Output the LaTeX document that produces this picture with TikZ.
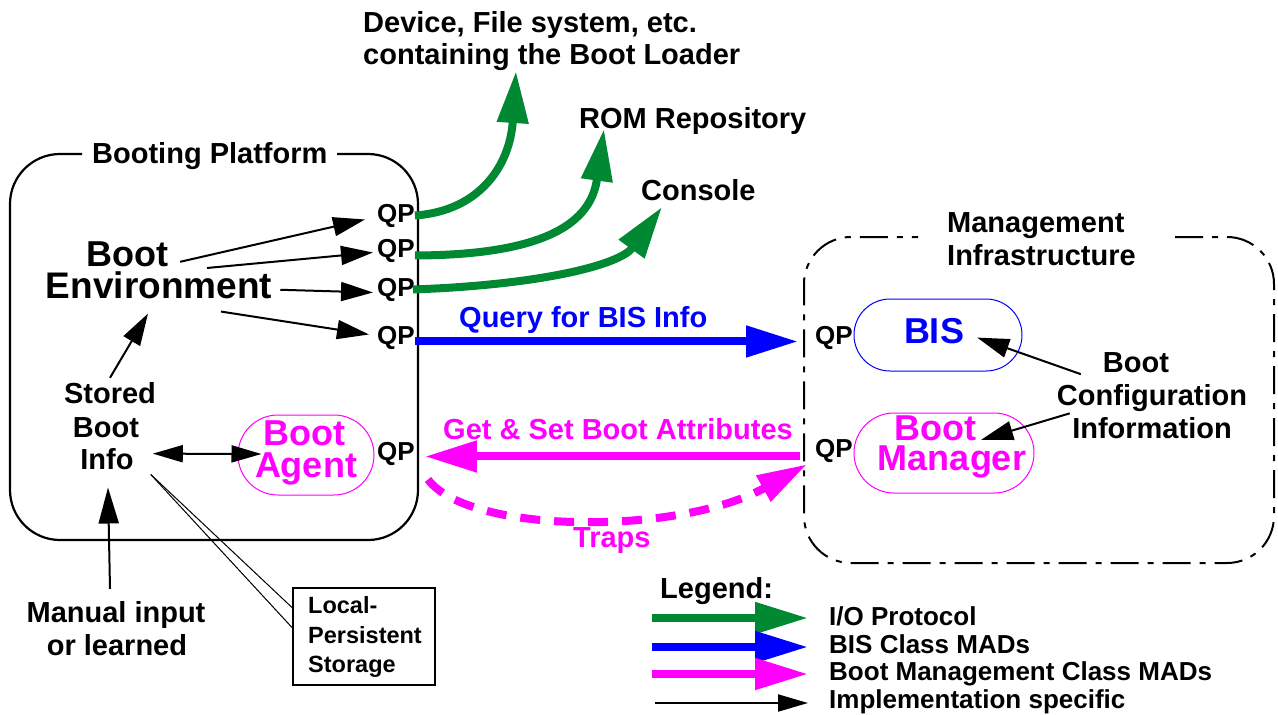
\documentclass[tikz,border=0pt]{standalone}
\usepackage{fontspec}
\setmainfont{Liberation Sans}
\usetikzlibrary{arrows.meta,calc}
\definecolor{iogreen}{RGB}{0,136,51}
\definecolor{mag}{RGB}{255,0,255}
\definecolor{bisblue}{RGB}{0,0,255}
\begin{document}
\begin{tikzpicture}[x=1pt,y=-1pt,
  lbl/.style={inner sep=0pt, anchor=base west, font=\fontsize{29}{32}\selectfont\bfseries},
  lblc/.style={inner sep=0pt, anchor=base, font=\fontsize{29}{32}\selectfont\bfseries},
  big/.style={inner sep=0pt, anchor=base, font=\fontsize{36}{32}\selectfont\bfseries},
  qp/.style={inner sep=0pt, anchor=base west, font=\fontsize{26}{28}\selectfont\bfseries},
  small/.style={inner sep=0pt, anchor=base west, font=\fontsize{23.5}{26}\selectfont\bfseries},
  leg/.style={inner sep=0pt, anchor=base west, font=\fontsize{26}{28}\selectfont\bfseries},
  impl/.style={line width=2pt, -{Triangle[length=32pt,width=19pt]}},
  thickarr/.style={line width=8pt, -{Triangle[length=52pt,width=30pt]}},
  pillbox/.style={line width=1pt, inner sep=0pt}
]
\useasboundingbox (0,0) rectangle (1278,715);

% boxes
\draw[line width=2.2pt, rounded corners=50pt] (337,154) -- (418,154) -- (418,540) -- (10,540) -- (10,154) -- (82,154);
\draw[line width=2pt, dash pattern=on 28pt off 9pt on 6pt off 9pt, rounded corners=47pt]
  (1175,237) -- (1274,237) -- (1274,563) -- (804,563) -- (804,237) -- (918,237);

\node[draw=bisblue, pillbox, rounded corners=36pt, minimum width=168pt, minimum height=72pt] (bisbox) at (938,335) {};
\node[draw=mag, pillbox, rounded corners=40pt, minimum width=180pt, minimum height=80pt] (mgrbox) at (944,453) {};
\node[draw=mag, pillbox, rounded corners=40pt, minimum width=136pt, minimum height=80pt] (agentbox) at (306,455) {};
\node[draw, line width=2pt, minimum width=142pt, minimum height=97pt, inner sep=0pt] (lpsbox) at (364,636.5) {};

% texts
\node[lbl] (dev1) at (363,32) {Device, File system, etc.};
\node[lbl] (dev2) at (363,64) {containing the Boot Loader};
\node[lbl] (rom) at (579,128) {ROM Repository};
\node[lbl] (console) at (641,200) {Console};
\node[lbl] (bptitle) at (92,163) {Booting Platform};
\node[lbl] (mi1) at (947,232) {Management};
\node[lbl] (mi2) at (947,265) {Infrastructure};

\node[big] (envA) at (127,266) {Boot};
\node[big, font=\fontsize{37}{32}\selectfont\bfseries] (envB) at (159,298) {Environment};

\node[qp] (qp1) at (377,222) {QP};
\node[qp] (qp2) at (377,257) {QP};
\node[qp] (qp3) at (377,296) {QP};
\node[qp] (qp4) at (377,344) {QP};
\node[qp] (qp5) at (377,460) {QP};
\node[qp] (bisqp) at (815,344) {QP};
\node[qp] (mgrqp) at (815,457) {QP};

\node[lblc] (stored) at (110,403) {Stored};
\node[lblc] (sboot) at (106,437) {Boot};
\node[lblc] (info) at (107,469) {Info};

\node[big, text=mag] (agent1) at (304,445) {Boot};
\node[big, text=mag] (agent2) at (306,477) {Agent};
\node[big, text=bisblue] (bis) at (934,343) {BIS};
\node[big, text=mag] (mgr1) at (935,440) {Boot};
\node[big, text=mag] (mgr2) at (952,470) {Manager};

\node[lblc] (cfg1) at (1136,372) {Boot};
\node[lblc] (cfg2) at (1152,405) {Configuration};
\node[lblc] (cfg3) at (1152,438) {Information};

\node[lbl, text=bisblue] (query) at (459,327) {Query for BIS Info};
\node[lbl, text=mag] (getset) at (443,439) {Get \& Set Boot Attributes};
\node[lbl, text=mag] (traps) at (573,547) {Traps};

\node[lblc] (manual) at (116,622) {Manual input};
\node[lblc] (learned) at (117,655) {or learned};

\node[small] (lps1) at (308,613) {Local-};
\node[small] (lps2) at (308,643) {Persistent};
\node[small] (lps3) at (308,672) {Storage};

\node[lbl] (legend) at (660,598) {Legend:};
\node[leg] (li1) at (829,625) {I/O Protocol};
\node[leg] (li2) at (829,653) {BIS Class MADs};
\node[leg] (li3) at (829,680) {Boot Management Class MADs};
\node[leg] (li4) at (829,708) {Implementation specific};

% implementation specific arrows
\draw[impl] ($(envA.east)+(12,8)$) -- ($(qp1.west)+(-12,4)$);
\draw[impl] ($(envB.north)+(48,-3)$) -- ($(qp2.west)+(-4,2)$);
\draw[impl] ($(envB.east)+(8,5)$) -- ($(qp3.west)+(-4,3)$);
\draw[impl] ($(envB.south)+(62,13)$) -- ($(qp4.west)+(-8,-3)$);
\draw[impl] ($(stored.north)+(0,-4)$) -- ($(envB.south)+(-11,15)$);
\draw[line width=2pt, {Triangle[length=30pt,width=17pt]}-{Triangle[length=30pt,width=17pt]}] ($(info.east)+(19,-5)$) -- ($(agentbox.west)+(24,-1)$);
\draw[line width=2pt, -{Triangle[length=36pt,width=20pt]}] ($(manual.north)+(-6,-12)$) -- ($(info.south)+(1,18)$);
\draw[line width=1pt] ($(info.south east)+(17,5)$) -- ($(lpsbox.west)+(0,-29)$);
\draw[line width=1pt] ($(info.south east)+(17,5)$) -- ($(lpsbox.west)+(0,-9)$);
\draw[impl] ($(cfg1.west)+(-22,12)$) -- ($(bis.east)+(13,7)$);
\draw[impl] ($(cfg2.south west)+(13,2)$) -- ($(mgr1.east)+(5,12)$);

% I/O protocol arrows
\coordinate (t1) at (516,71);
\coordinate (t2) at (604,129);
\coordinate (t3) at (662,207);
\draw[iogreen, thickarr] (qp1.east) .. controls (480,211) and (510,165) .. (t1);
\draw[iogreen, thickarr] ($(qp2.east)+(0,5)$) .. controls (560,255) and (592,215) .. (t2);
\draw[iogreen, thickarr] ($(qp3.east)+(-2,0)$) .. controls (540,285) and (620,265) .. (t3);

% MADs
\draw[bisblue, thickarr] ($(qp4.east)+(0,4)$) -- ($(bisqp.west)+(-17,4)$);
\coordinate (gs) at ($(mgrqp.west)+(-15,6)$);
\draw[mag, thickarr] (gs) -- ($(gs -| qp5.east)+(10,0)$);
\draw[mag, line width=8pt, dash pattern=on 20pt off 14pt, -{Triangle[length=50pt,width=28pt]}]
  ($(qp5.east)+(13,26)$) .. controls (470,535) and (680,535) .. ($(mgrqp.south west)+(-8,2)$);

% legend
\coordinate (lg1) at (652,618);
\coordinate (lg2) at (652,647);
\coordinate (lg3) at (652,674);
\coordinate (lg4) at (655,703);
\draw[iogreen, line width=8pt, -{Triangle[length=53pt,width=30pt]}, shorten >=21pt] (lg1) -- (lg1 -| li1.west);
\draw[bisblue, line width=8pt, -{Triangle[length=53pt,width=30pt]}, shorten >=21pt] (lg2) -- (lg2 -| li2.west);
\draw[mag, line width=8pt, -{Triangle[length=53pt,width=30pt]}, shorten >=21pt] (lg3) -- (lg3 -| li3.west);
\draw[line width=2pt, -{Triangle[length=30pt,width=17pt]}, shorten >=21pt] (lg4) -- (lg4 -| li4.west);
\end{tikzpicture}
\end{document}
